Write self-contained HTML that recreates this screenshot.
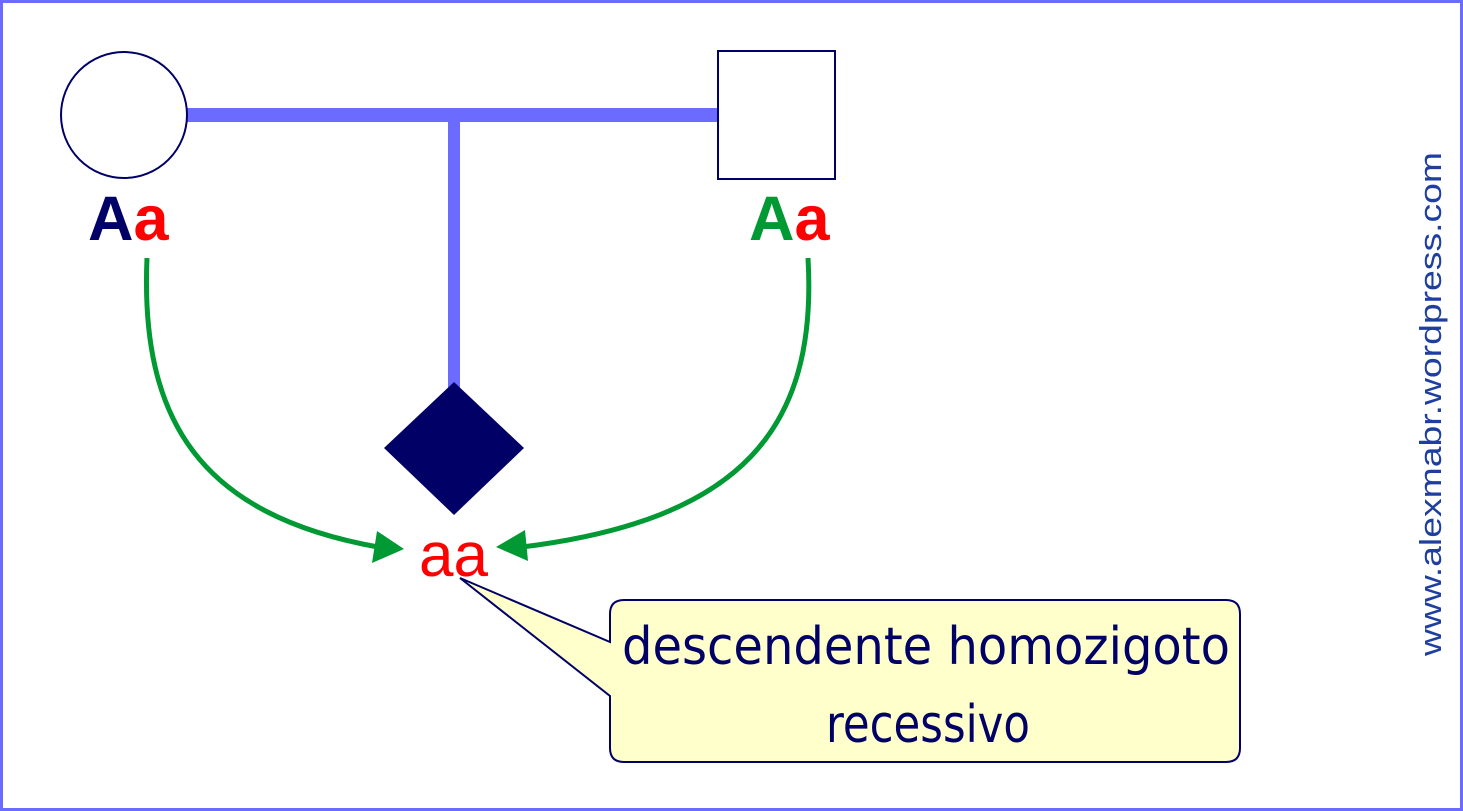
<!DOCTYPE html>
<html><head><meta charset="utf-8"><style>html,body{margin:0;padding:0;background:#fff}svg{display:block}</style></head>
<body>
<svg width="1463" height="811" viewBox="0 0 1463 811" xmlns="http://www.w3.org/2000/svg">
<rect x="1.5" y="1.5" width="1460" height="808" fill="#fff" stroke="#6b6bff" stroke-width="3"/>
<line x1="186" y1="115" x2="718" y2="115" stroke="#6b6bff" stroke-width="14"/>
<line x1="454" y1="122" x2="454" y2="395" stroke="#6b6bff" stroke-width="12"/>
<circle cx="124" cy="115" r="63" fill="#fff" stroke="#000066" stroke-width="2"/>
<rect x="718" y="51" width="117" height="128" fill="#fff" stroke="#000066" stroke-width="2"/>
<polygon points="454,382 524,448 454,515 384,448" fill="#000066"/>
<text y="240" font-family="Liberation Sans, sans-serif" font-weight="bold" font-size="63"><tspan x="88" fill="#000066">A</tspan><tspan fill="#ff0000">a</tspan></text>
<text y="240" font-family="Liberation Sans, sans-serif" font-weight="bold" font-size="63"><tspan x="749" fill="#009933">A</tspan><tspan fill="#ff0000">a</tspan></text>
<path d="M147,258 C140,420 200,515 378,547" fill="none" stroke="#009933" stroke-width="5"/>
<polygon points="404,549 372,563 377,531" fill="#009933"/>
<path d="M808,258 C818,430 740,520 522,547" fill="none" stroke="#009933" stroke-width="5"/>
<polygon points="496,547 525,530 528,561" fill="#009933"/>
<text x="419" y="576" font-family="Liberation Sans, sans-serif" font-size="62" fill="#ff0000">aa</text>
<path d="M624,600 H1226 Q1240,600 1240,614 V748 Q1240,762 1226,762 H624 Q610,762 610,748 V696 L460,578 L610,642 V614 Q610,600 624,600 Z" fill="#ffffcc" stroke="#000066" stroke-width="2"/>
<text x="622" y="664" font-family="DejaVu Sans, sans-serif" font-size="52" fill="#000066" textLength="608" lengthAdjust="spacingAndGlyphs">descendente homozigoto</text>
<text x="826" y="742" font-family="DejaVu Sans, sans-serif" font-size="52" fill="#000066" textLength="204" lengthAdjust="spacingAndGlyphs">recessivo</text>
<text transform="translate(1441,656) rotate(-90)" font-family="Liberation Sans, sans-serif" font-size="31" fill="#1f3fa0" textLength="504" lengthAdjust="spacingAndGlyphs">www.alexmabr.wordpress.com</text>
</svg>
</body></html>
